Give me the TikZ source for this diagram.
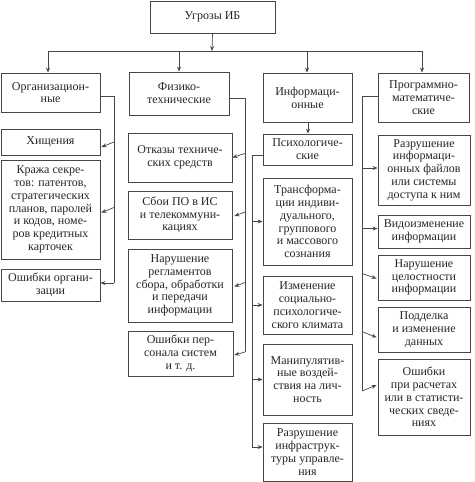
\documentclass[tikz,border=0pt]{standalone}
\usepackage{fontspec}
\setmainfont{Liberation Serif}
\usetikzlibrary{arrows.meta,calc}
\newcommand\mybox[6]{%
 \pgfmathsetmacro\bw{#4-#2}\pgfmathsetmacro\bh{#5-#3}%
 \pgfmathsetmacro\bcx{(#2+#4)/2}\pgfmathsetmacro\bcy{(#3+#5)/2}%
 \node[box,minimum width=\bw pt,minimum height=\bh pt] (#1) at (\bcx,\bcy) {#6};}
\begin{document}
\begin{tikzpicture}[x=1pt,y=-1pt,
 box/.style={draw=black!72, line width=0.8pt, fill=white, align=center, inner sep=1pt,
   font=\fontsize{12}{12.8}\selectfont, text=black!85},
 ln/.style={draw=black!72, line width=0.7pt},
 arr/.style={ln, -{Stealth[length=5pt,width=4pt]}}]
\useasboundingbox (0,0) rectangle (474,482);
% level 0 and 1
\mybox{top}{150}{1}{275}{33}{Угрозы ИБ}
\mybox{org}{1}{73}{100}{112}{Организацион-\\ные}
\mybox{fiz}{129}{72}{229}{115}{Физико-\\технические}
\mybox{inf}{263}{73}{352}{122}{Информаци-\\онные}
\mybox{prog}{378}{73}{469}{122}{Программно-\\математиче-\\ские}
% column 1
\mybox{hisch}{1}{129}{100}{155}{Хищения}
\mybox{kraja}{1}{160}{100}{259}{Кража секре-\\тов: патентов,\\стратегических\\планов, паролей\\и кодов, номе-\\ров кредитных\\карточек}
\mybox{oshorg}{1}{269}{100}{301}{Ошибки органи-\\зации}
% column 2
\mybox{otkazy}{128}{133}{232}{182}{Отказы техниче-\\ских средств}
\mybox{sboi}{128}{191}{232}{239}{Сбои ПО в ИС\\и телекоммуни-\\кациях}
\mybox{narush}{128}{249}{232}{322}{Нарушение\\регламентов\\сбора, обработки\\и передачи\\информации}
\mybox{oshpers}{128}{331}{233}{376}{Ошибки пер-\\сонала систем\\и т. д.}
% column 3
\mybox{psych}{263}{134}{352}{165}{Психологиче-\\ские}
\mybox{transf}{263}{178}{352}{265}{Трансформа-\\ции индиви-\\дуального,\\группового\\и массового\\сознания}
\mybox{izmen}{263}{276}{352}{334}{Изменение\\социально-\\психологиче-\\ского климата}
\mybox{manip}{263}{344}{352}{415}{Манипулятив-\\ные воздей-\\ствия на лич-\\ность}
\mybox{razrinf}{263}{423}{352}{481}{Разрушение\\инфраструк-\\туры управле-\\ния}
% column 4
\mybox{razrf}{378}{135}{470}{205}{Разрушение\\информаци-\\онных файлов\\или системы\\доступа к ним}
\mybox{vid}{378}{215}{470}{248}{Видоизменение\\информации}
\mybox{narc}{378}{255}{470}{300}{Нарушение\\целостности\\информации}
\mybox{podd}{378}{307}{470}{352}{Подделка\\и изменение\\данных}
\mybox{oshr}{378}{359}{470}{435}{Ошибки\\при расчетах\\или в статисти-\\ческих сведе-\\ниях}
% top bus
\coordinate (b0) at (212,51);
\draw[arr] (top.south) -- (b0);
\draw[ln] (b0 -| 48,0) -- (b0 -| 422,0);
\draw[arr] (b0 -| 48,0) -- (48,0 |- org.north);
\draw[arr] (b0 -| fiz.north) -- (fiz.north);
\draw[arr] (b0 -| 307,0) -- (307,0 |- inf.north);
\draw[arr] (b0 -| 422,0) -- (422,0 |- prog.north);
% column 1 bus
\coordinate (obt) at (114,96);
\coordinate (obb) at (114,283);
\draw[ln] (obt -| org.east) -- (obt) -- (obb);
\draw[arr] (obt |- hisch.east) -- ($(hisch.east)+(1,5)$);
\draw[arr] ($(obt |- kraja.east)+(0,-2)$) -- ($(kraja.east)+(1,3)$);
\draw[arr] (obb) -- (obb -| oshorg.east);
% column 2 bus
\coordinate (fbt) at (245,98);
\coordinate (fbb) at (245,352);
\draw[ln] (fbt -| fiz.east) -- (fbt) -- (fbb);
\draw[arr] ($(fbt |- otkazy.east)+(0,-4)$) -- (otkazy.east);
\draw[arr] ($(fbt |- sboi.east)+(0,-3)$) -- ($(sboi.east)+(2,1)$);
\draw[arr] ($(fbt |- narush.east)+(0,-3)$) -- ($(narush.east)+(2,1)$);
\draw[arr] (fbb) -- ($(oshpers.east)+(1,1.5)$);
% column 3 bus
\draw[arr] (inf.south -| 308,0) -- (308,0 |- psych.north);
\coordinate (pbt) at (252,155);
\coordinate (pbb) at (252,447);
\draw[ln] (pbt -| psych.west) -- (pbt) -- (pbb);
\draw[arr] (pbt |- transf.west) -- (transf.west);
\draw[arr] (pbt |- izmen.west) -- (izmen.west);
\draw[arr] (pbt |- manip.west) -- (manip.west);
\draw[arr] (pbb) -- (pbb -| razrinf.west);
% column 4 bus
\coordinate (mbt) at (362,96);
\coordinate (mbb) at (362,391);
\draw[ln] (mbt -| prog.west) -- (mbt) -- (mbb);
\draw[arr] ($(mbt |- razrf.west)+(0,-2)$) -- ($(razrf.west)+(0,-2)$);
\draw[arr] ($(mbt |- vid.west)+(0,-3)$) -- ($(vid.west)+(0,-3)$);
\draw[arr] ($(mbt |- narc.west)+(0,-4)$) -- ($(narc.west)+(-1,1)$);
\draw[arr] ($(mbt |- podd.west)+(0,2)$) -- ($(podd.west)+(-1,8)$);
\draw[arr] (mbb) -- ($(oshr.west)+(-1,-12)$);
\end{tikzpicture}
\end{document}
